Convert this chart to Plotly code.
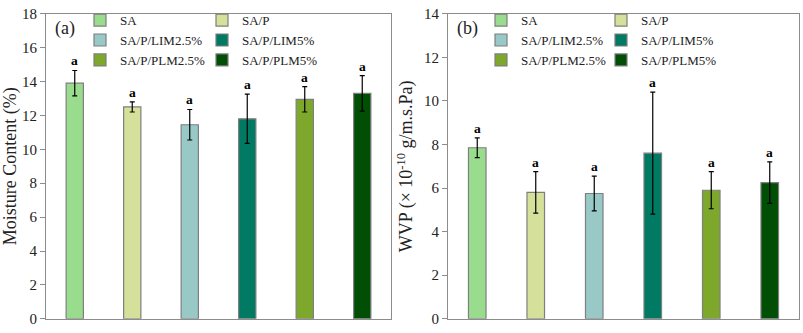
"""Moisture content (a) and WVP (b) of SA-based films — two bar panels with error bars."""
import plotly.graph_objects as go
from plotly.subplots import make_subplots

SAMPLES = ['SA', 'SA/P', 'SA/P/LIM2.5%', 'SA/P/LIM5%', 'SA/P/PLM2.5%', 'SA/P/PLM5%']
COLORS = ['#9adc8e', '#d5e09a', '#98c9c7', '#007a63', '#7ea82c', '#004f05']

MOISTURE = [13.9, 12.5, 11.45, 11.8, 12.95, 13.3]
MOISTURE_SD = [0.75, 0.3, 0.9, 1.45, 0.75, 1.05]
WVP = [7.85, 5.8, 5.75, 7.6, 5.9, 6.25]
WVP_SD = [0.45, 0.95, 0.8, 2.8, 0.85, 0.95]
LETTERS = ['a', 'a', 'a', 'a', 'a', 'a']

FONT = 'Liberation Serif, Times New Roman, serif'
W, H = 803, 333

fig = make_subplots(rows=1, cols=2)

panels = [
    (1, MOISTURE, MOISTURE_SD, ('legend', 'legend2')),
    (2, WVP, WVP_SD, ('legend3', 'legend4')),
]
for col, vals, sds, legs in panels:
    for i, name in enumerate(SAMPLES):
        fig.add_trace(go.Bar(
            x=[name], y=[vals[i]], name=name, width=0.3,
            marker=dict(color=COLORS[i], line=dict(color='#7f7f7f', width=1.2)),
            error_y=dict(type='data', array=[sds[i]], color='#000000', thickness=1.2, width=2.5),
            legend=legs[i % 2], showlegend=True,
        ), row=1, col=col)
        # significance letters above error bars
        fig.add_annotation(
            x=name, y=vals[i] + sds[i], text='<b>' + LETTERS[i] + '</b>',
            showarrow=False, yanchor='bottom', yshift=0,
            font=dict(family=FONT, size=13.5, color='#000000'),
            xref=f'x{col if col > 1 else ""}', yref=f'y{col if col > 1 else ""}',
        )


def px_x(p):
    return p / W


def px_y(p):
    return 1 - p / H


legend_style = dict(
    font=dict(family=FONT, size=13, color='#222222'),
    bgcolor='rgba(0,0,0,0)', xanchor='left', yanchor='top',
    itemwidth=30, tracegroupgap=0,
)

fig.update_layout(
    width=W, height=H,
    margin=dict(l=0, r=0, t=0, b=0),
    plot_bgcolor='white', paper_bgcolor='white',
    barmode='overlay',
    font=dict(family=FONT, size=15, color='#222222'),
    legend=dict(x=px_x(80), y=px_y(-3), **legend_style),
    legend2=dict(x=px_x(202), y=px_y(-3), **legend_style),
    legend3=dict(x=px_x(481), y=px_y(-3), **legend_style),
    legend4=dict(x=px_x(601), y=px_y(-3), **legend_style),
    xaxis=dict(domain=[px_x(46), px_x(391)]),
    xaxis2=dict(domain=[px_x(448), px_x(799)]),
    yaxis=dict(domain=[px_y(326.5), px_y(6)], range=[0, 18], dtick=2,
               title=dict(text='Moisture Content (%)', standoff=6)),
    yaxis2=dict(domain=[px_y(326.5), px_y(6)], range=[0, 14], dtick=2,
                title=dict(text='WVP (× 10<sup>-10</sup> g/m.s.Pa)', standoff=6)),
)
fig.update_xaxes(showticklabels=False, showgrid=False, showline=True, linecolor='#8c8c8c',
                 linewidth=1.2, mirror=True, ticks='')
fig.update_yaxes(showgrid=False, showline=True, linecolor='#8c8c8c', linewidth=1.2,
                 mirror=True, ticks='outside', ticklen=5, tickcolor='#8c8c8c',
                 ticklabeloverflow='allow',
                 tickfont=dict(family=FONT, size=15, color='#222222'), zeroline=False)

fig.add_annotation(text='(a)', x=px_x(53), y=px_y(22), xref='paper', yref='paper',
                   xanchor='left', yanchor='middle', showarrow=False,
                   font=dict(family=FONT, size=18, color='#222222'))
fig.add_annotation(text='(b)', x=px_x(455), y=px_y(22), xref='paper', yref='paper',
                   xanchor='left', yanchor='middle', showarrow=False,
                   font=dict(family=FONT, size=18, color='#222222'))

# page body has a default 8px margin; drop it so the figure fills the window
fig.write_html('out.html', config={'displayModeBar': False},
               post_script="document.body.style.margin='0';")
